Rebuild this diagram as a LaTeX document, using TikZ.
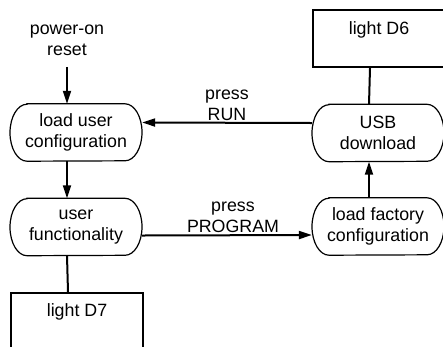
\documentclass[tikz,border=0pt]{standalone}
\usepackage{fontspec}
\setmainfont{Liberation Sans}
\usetikzlibrary{arrows.meta}
\tikzset{
  txt/.style={font=\fontsize{17.8}{21}\selectfont, align=center},
  term/.style={txt, minimum width=132pt, minimum height=57pt, inner sep=0pt},
  termline/.style={draw=black, line width=1.2pt},
  lbox/.style={txt, draw, line width=2pt, minimum width=132pt, text height=13pt, anchor=north west},
  conn/.style={line width=2pt},
  arr/.style={line width=2pt, -{Triangle[length=13pt,width=8pt]}},
  lbl/.style={txt, inner sep=1.5pt}
}
\begin{document}
\begin{tikzpicture}[x=1pt,y=1pt]
\useasboundingbox (0,0) rectangle (443,-346);
\clip (0,0) rectangle (443,-346);
% nodes
\node[txt] (por) at (67,-40) {power-on\\reset};
\node[term] (luc) at (76,-132.5) {load user\\configuration};
\node[term] (uf) at (76,-227) {user\\functionality};
\node[term] (usb) at (378,-133) {USB\\download};
\node[term] (lfc) at (378,-226.5) {load factory\\configuration};
\node[lbox, text depth=22pt, inner ysep=11pt] (d6) at (312,-9) {light D6};
\node[lbox, text depth=24pt, inner ysep=10pt] (d7) at (10,-292) {light D7};
% terminator outlines
\foreach \n in {luc,uf,usb,lfc}{
  \draw[termline] ([xshift=-49pt]\n.north) -- ([xshift=49pt]\n.north)
    arc[start angle=90,end angle=-90,x radius=17pt,y radius=28.5pt]
    -- ([xshift=-49pt]\n.south)
    arc[start angle=270,end angle=90,x radius=17pt,y radius=28.5pt] -- cycle;
}
% connectors
\draw[arr, shorten <=8pt] (por.south) -- ([xshift=-9pt]luc.north);
\draw[arr] ([xshift=-9pt]luc.south) -- ([xshift=-9pt]uf.north);
\draw[conn] ([xshift=-9pt]uf.south) -- ([xshift=-9pt]d7.north);
\draw[arr] ([yshift=-8.5pt]uf.east) -- node[midway, above, lbl, xshift=6pt] {press\\PROGRAM} ([yshift=-8.5pt]lfc.west);
\draw[arr] ([xshift=-9pt]lfc.north) -- ([xshift=-9pt]usb.south);
\draw[arr] ([yshift=10pt]usb.west) -- node[midway, above, lbl] {press\\RUN} ([yshift=10pt]luc.east);
\draw[conn] ([xshift=-9pt]d6.south) -- ([xshift=-9pt]usb.north);
\end{tikzpicture}
\end{document}
